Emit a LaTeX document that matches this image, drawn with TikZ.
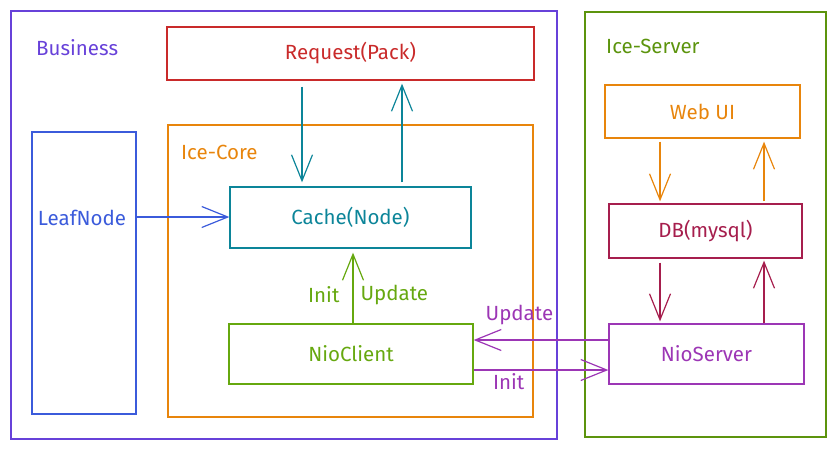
\documentclass[tikz,border=0pt]{standalone}
\usepackage{fontspec}
\setmainfont{Fira Sans}
\usetikzlibrary{arrows.meta}
\definecolor{cPurple}{HTML}{6741D9}
\definecolor{cRed}{HTML}{C92A2A}
\definecolor{cBlue}{HTML}{3B5BDB}
\definecolor{cOrange}{HTML}{E8850C}
\definecolor{cTeal}{HTML}{0C8599}
\definecolor{cGreen}{HTML}{66A80F}
\definecolor{cDGreen}{HTML}{5C940D}
\definecolor{cCrimson}{HTML}{A61E4D}
\definecolor{cViolet}{HTML}{9C36B5}
\tikzset{
  box/.style={draw=#1, text=#1, line width=1.3pt, inner sep=0pt, font=\fontsize{20.5}{22}\selectfont},
  frame/.style={draw=#1, line width=2.6pt},
  lbl/.style={text=#1, font=\fontsize{20.5}{22}\selectfont, inner sep=1pt},
  arr/.style={draw=#1, line width=1.2pt, -{Straight Barb[length=26pt,width=21pt,line width=1.2pt]}},
}
\begin{document}
\begin{tikzpicture}[x=1pt,y=-1pt]
\useasboundingbox (0,0) rectangle (835,450);
% containers
\draw[frame=cPurple] (11,11) rectangle (557,439);
\node[lbl=cPurple, anchor=west] (tbus) at (35,48) {Business};
\draw[frame=cDGreen] (585,12) rectangle (826,437);
\node[lbl=cDGreen, anchor=west] (tsrv) at (605,46) {Ice-Server};
\draw[draw=cOrange, line width=1.3pt] (168,125) rectangle (533,417);
\node[lbl=cOrange, anchor=west] (tcore) at (180,152) {Ice-Core};
% nodes
\node[box=cRed, minimum width=367pt, minimum height=53pt] (req) at (350.5,53.5) {Request(Pack)};
\node[box=cBlue, minimum width=104pt, minimum height=282pt] (leaf) at (84,273) {};
\node[lbl=cBlue] (leaft) at (82,218) {LeafNode};
\node[box=cTeal, minimum width=241pt, minimum height=61pt] (cache) at (350.5,217.5) {Cache(Node)};
\node[box=cGreen, minimum width=244pt, minimum height=60pt] (nioc) at (351,354) {NioClient};
\node[box=cOrange, minimum width=195pt, minimum height=53pt] (web) at (702.5,111.5) {Web UI};
\node[box=cCrimson, minimum width=193pt, minimum height=54pt] (db) at (705.5,231) {DB(mysql)};
\node[box=cViolet, minimum width=195pt, minimum height=60pt] (nios) at (706.5,354) {NioServer};
% helper coordinates
\coordinate (x1) at (302,0);
\coordinate (x2) at (402,0);
\coordinate (x3) at (353,0);
\coordinate (x4) at (660,0);
\coordinate (x5) at (764,0);
\coordinate (y1) at (0,217);
\coordinate (y2) at (0,340);
\coordinate (y3) at (0,370);
% connectors
\draw[arr=cTeal, shorten <=6pt, shorten >=4pt] (req.south -| x1) -- (cache.north -| x1);
\draw[arr=cTeal, shorten <=4pt, shorten >=3pt] (cache.north -| x2) -- (req.south -| x2);
\draw[arr=cBlue] (leaf.east |- y1) -- (cache.west |- y1);
\draw[arr=cGreen, shorten >=4pt] (nioc.north -| x3) -- (cache.south -| x3)
  node[pos=0.38, lbl=cGreen, anchor=east, xshift=-12pt] (linit) {Init}
  node[pos=0.38, lbl=cGreen, anchor=west, xshift=6pt] (lupd) {Update};
\draw[arr=cOrange, shorten <=3pt, shorten >=2pt] (web.south -| x4) -- (db.north -| x4);
\draw[arr=cOrange, shorten <=2pt, shorten >=3pt] (db.north -| x5) -- (web.south -| x5);
\draw[arr=cCrimson, shorten <=4pt, shorten >=2pt] (db.south -| x4) -- (nios.north -| x4);
\draw[arr=cCrimson, shorten >=2pt] (nios.north -| x5) -- (db.south -| x5);
\draw[arr=cViolet] (nios.west |- y2) -- (nioc.east |- y2)
  node[pos=0.66, lbl=cViolet, anchor=south, yshift=14pt] (lu2) {Update};
\draw[arr=cViolet] (nioc.east |- y3) -- (nios.west |- y3)
  node[pos=0.26, lbl=cViolet, anchor=north, yshift=-2pt] (li2) {Init};
\end{tikzpicture}
\end{document}
